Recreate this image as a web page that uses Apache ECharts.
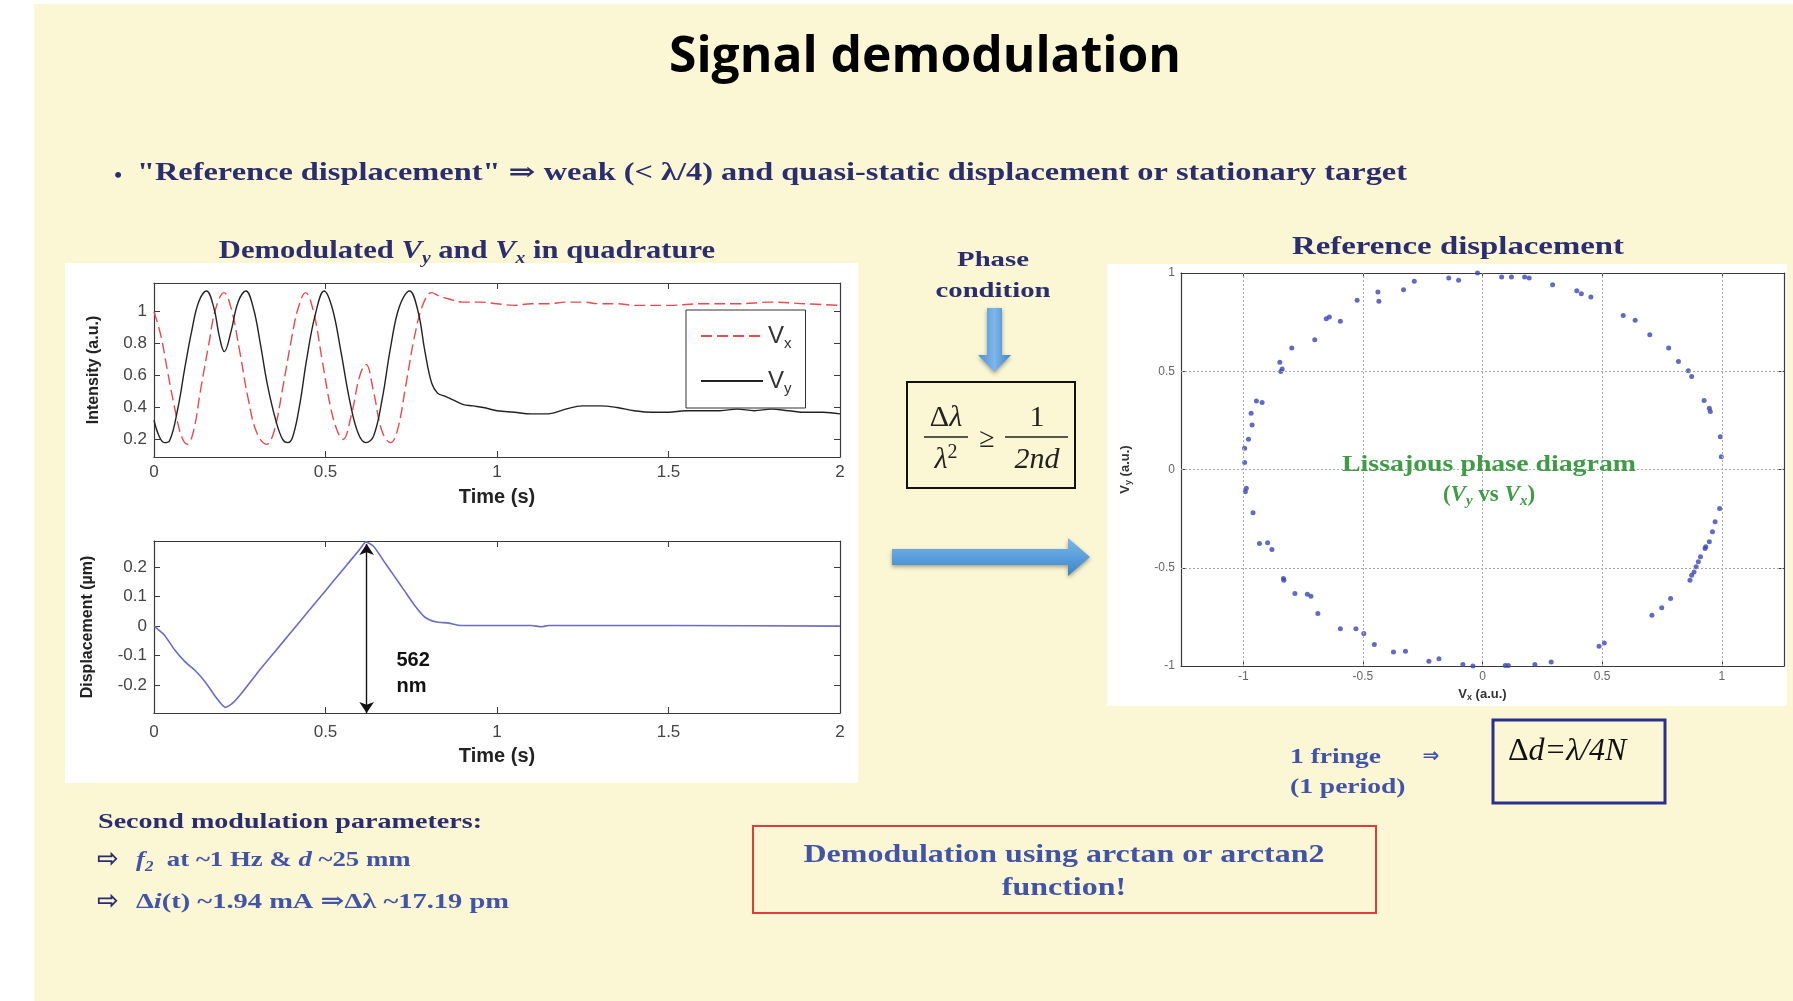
<!DOCTYPE html>
<html>
<head>
<meta charset="utf-8">
<script src="https://cdn.jsdelivr.net/npm/echarts@6/dist/echarts.min.js"></script>
<style>
  html, body { margin: 0; padding: 0; background: #fff; }
  #main { width: 1793px; height: 1001px; }
</style>
</head>
<body>
<div id="main"></div>
<script>
// demodulated quadrature signals, [time (s), intensity (a.u.)]
const vySignal = [
  [0, 0.32], [0.015, 0.22], [0.03, 0.18], [0.045, 0.19], [0.07, 0.40], [0.09, 0.65], [0.11, 0.88],
  [0.13, 1.06], [0.153, 1.13], [0.175, 1.02], [0.19, 0.85], [0.205, 0.75], [0.225, 0.88], [0.245, 1.06],
  [0.268, 1.13], [0.29, 1.02], [0.31, 0.80], [0.33, 0.55], [0.355, 0.32], [0.375, 0.20], [0.39, 0.18],
  [0.405, 0.22], [0.425, 0.42], [0.445, 0.70], [0.47, 0.98], [0.496, 1.13], [0.52, 1.02], [0.545, 0.75],
  [0.57, 0.45], [0.595, 0.24], [0.618, 0.18], [0.64, 0.22], [0.665, 0.45], [0.69, 0.78], [0.715, 1.03],
  [0.745, 1.13], [0.77, 1.00], [0.79, 0.75], [0.81, 0.55], [0.827, 0.49], [0.85, 0.47], [0.87, 0.45],
  [0.9, 0.42], [0.93, 0.41], [0.96, 0.40], [1.0, 0.38], [1.05, 0.37], [1.1, 0.36], [1.15, 0.36],
  [1.2, 0.39], [1.25, 0.41], [1.3, 0.41], [1.35, 0.40], [1.4, 0.38], [1.45, 0.37], [1.5, 0.37],
  [1.55, 0.38], [1.6, 0.38], [1.65, 0.38], [1.7, 0.39], [1.75, 0.38], [1.8, 0.39], [1.85, 0.38],
  [1.9, 0.37], [1.95, 0.37], [2.0, 0.36]
];
const vxSignal = [
  [0, 1.0], [0.02, 0.85], [0.04, 0.62], [0.06, 0.40], [0.08, 0.22], [0.097, 0.17], [0.115, 0.25],
  [0.135, 0.50], [0.16, 0.80], [0.18, 1.02], [0.204, 1.12], [0.225, 1.02], [0.25, 0.75], [0.275, 0.45],
  [0.3, 0.24], [0.328, 0.17], [0.35, 0.25], [0.375, 0.52], [0.4, 0.82], [0.42, 1.02], [0.442, 1.12],
  [0.465, 1.00], [0.49, 0.70], [0.515, 0.40], [0.535, 0.25], [0.551, 0.20], [0.575, 0.35], [0.6, 0.60],
  [0.618, 0.67], [0.64, 0.50], [0.665, 0.25], [0.69, 0.18], [0.71, 0.26], [0.735, 0.55], [0.76, 0.85],
  [0.785, 1.05], [0.81, 1.12], [0.83, 1.10], [0.86, 1.08], [0.9, 1.06], [0.95, 1.06], [1.0, 1.05],
  [1.05, 1.04], [1.1, 1.05], [1.15, 1.05], [1.2, 1.06], [1.25, 1.06], [1.3, 1.05], [1.35, 1.05],
  [1.4, 1.04], [1.5, 1.04], [1.6, 1.05], [1.7, 1.05], [1.8, 1.06], [1.9, 1.05], [2.0, 1.04]
];
// reconstructed displacement, [time (s), displacement (um)]
const displacement = [
  [0, 0], [0.03, -0.03], [0.06, -0.08], [0.09, -0.12], [0.12, -0.15], [0.15, -0.19], [0.18, -0.24],
  [0.208, -0.275], [0.23, -0.26], [0.26, -0.22], [0.3, -0.16], [0.35, -0.09], [0.4, -0.02], [0.45, 0.05],
  [0.5, 0.12], [0.55, 0.19], [0.6, 0.26], [0.618, 0.285], [0.64, 0.27], [0.67, 0.22], [0.7, 0.17],
  [0.73, 0.12], [0.76, 0.07], [0.79, 0.03], [0.82, 0.015], [0.86, 0.01], [0.886, 0.003], [0.95, 0.002],
  [1.1, 0.002], [1.13, -0.002], [1.15, 0.002], [1.5, 0.002], [2.0, 0.0]
];
const peakTime = 0.62;
const peakValue = 0.278;
const amplitudeLabel = '562\nnm';
// Lissajous diagram samples (Vx, Vy)
const lissX = [
  -0.141, -0.10, -0.021, 0.080, 0.121, 0.176, 0.195, 0.293, 0.394, 0.413, 0.453, 0.588, 0.638, 0.699,
  0.778, 0.819, 0.860, 0.874, 0.926, 0.948, 0.952, 0.994, 0.998, 0.991, 0.972, 0.961, 0.948, 0.933,
  0.930, 0.911, 0.902, 0.893, 0.884, 0.874, 0.867, 0.786, 0.749, 0.708, 0.509, 0.487, 0.287, 0.219,
  0.108, 0.095, -0.040, -0.082, -0.182, -0.224, -0.322, -0.372, -0.452, -0.496, -0.529, -0.594, -0.688,
  -0.717, -0.732, -0.784, -0.830, -0.832, -0.880, -0.898, -0.932, -0.959, -0.991, -0.987, -0.994, -0.994,
  -0.978, -0.963, -0.967, -0.945, -0.921, -0.843, -0.837, -0.847, -0.797, -0.701, -0.653, -0.640, -0.594,
  -0.524, -0.437, -0.433, -0.330, -0.285
];
const lissY = [
  0.975, 0.963, 1.0, 0.98, 0.98, 0.98, 0.975, 0.94, 0.91, 0.895, 0.878, 0.784, 0.759, 0.686,
  0.618, 0.55, 0.502, 0.473, 0.351, 0.312, 0.295, 0.167, 0.065, -0.198, -0.266, -0.317, -0.368, -0.393,
  -0.402, -0.444, -0.470, -0.495, -0.521, -0.538, -0.563, -0.657, -0.703, -0.742, -0.883, -0.900, -0.980, -0.992,
  -0.997, -0.997, -1.0, -0.992, -0.963, -0.976, -0.925, -0.929, -0.891, -0.835, -0.810, -0.810, -0.733,
  -0.645, -0.635, -0.631, -0.563, -0.555, -0.407, -0.373, -0.376, -0.220, -0.113, -0.096, 0.035, 0.108,
  0.154, 0.227, 0.286, 0.349, 0.341, 0.499, 0.511, 0.546, 0.618, 0.660, 0.767, 0.776, 0.754,
  0.861, 0.903, 0.856, 0.915, 0.958
];
const intensityTicks = [0.2, 0.4, 0.6, 0.8, 1];
const dispTicks = [-0.2, -0.1, 0, 0.1, 0.2];
const lissTicks = [-1, -0.5, 0, 0.5, 1];
const lissGrid = [-0.5, 0, 0.5];

const SANS = '"Liberation Sans", Arial, sans-serif';
const SERIF = '"Liberation Serif", "DejaVu Serif", serif';
const NAVY = '#2b2e6e';
const MBLUE = '#4254a8';
const GREEN = '#3f9b45';
const AX = '#3a3a3a';

const chart = echarts.init(document.getElementById('main'));

// canvas measure so condensed slide text can be squeezed to its width
const mctx = document.createElement('canvas').getContext('2d');
function fit(str, font, w) {
  mctx.font = font;
  return w / mctx.measureText(str).width;
}
function T(x, y, text, o) {
  const sx = o.w ? fit(o.plain || text, o.font, o.w) : 1;
  return {
    type: 'text', x: x, y: y, scaleX: sx, z: 100,
    style: {
      text: text, font: o.font, fill: o.fill || NAVY,
      align: o.align || 'center', verticalAlign: 'middle', rich: o.rich
    }
  };
}
function rs(size, color, extra) {
  return Object.assign({ fontFamily: SERIF, fontSize: size, fontWeight: 'bold', fill: color, color: color, lineHeight: size + 6 }, extra || {});
}
function sub(size, color) {
  return rs(size, color, { lineHeight: size, verticalAlign: 'bottom', fontStyle: 'italic' });
}

function xAx(grid, opt) {
  return Object.assign({
    gridIndex: grid, type: 'value', position: 'bottom',
    axisLine: { show: true, onZero: false, lineStyle: { color: AX, width: 1.2 } },
    axisTick: { show: true, inside: true, length: 6, lineStyle: { color: AX } },
    axisLabel: { fontFamily: SANS, fontSize: 17, color: '#444', margin: 7 },
    splitLine: { show: false }
  }, opt);
}
function yAx(grid, opt) {
  return Object.assign({
    gridIndex: grid, type: 'value', position: 'left',
    axisLine: { show: true, onZero: false, lineStyle: { color: AX, width: 1.2 } },
    axisTick: { show: true, inside: true, length: 6, lineStyle: { color: AX } },
    axisLabel: { fontFamily: SANS, fontSize: 17, color: '#444', margin: 7 },
    splitLine: { show: false }
  }, opt);
}
const nameStyle = { fontFamily: SANS, fontWeight: 'bold', fontSize: 20, color: '#222' };
const noLabel = { show: false };

const option = {
  animation: false,
  textStyle: { fontFamily: SANS },
  grid: [
    { left: 154, top: 283, width: 686, height: 174 },
    { left: 154, top: 541, width: 686, height: 172 },
    { left: 1181, top: 273, width: 603, height: 393 }
  ],
  xAxis: [
    xAx(0, { min: 0, max: 2, interval: 0.5, name: 'Time (s)', nameLocation: 'middle', nameGap: 30, nameTextStyle: nameStyle }),
    xAx(0, { min: 0, max: 2, interval: 0.5, position: 'top', axisLabel: noLabel }),
    xAx(1, { min: 0, max: 2, interval: 0.5, axisLabel: { fontFamily: SANS, fontSize: 17, color: '#444', margin: 11 },
      name: 'Time (s)', nameLocation: 'middle', nameGap: 33, nameTextStyle: nameStyle }),
    xAx(1, { min: 0, max: 2, interval: 0.5, position: 'top', axisLabel: noLabel }),
    xAx(2, { min: -1.26, max: 1.26,
      axisTick: { show: true, inside: true, length: 5, customValues: lissTicks, lineStyle: { color: AX } },
      axisLabel: { customValues: lissTicks, fontFamily: SANS, fontSize: 12, color: '#666', margin: 5 },
      name: '{b|V}{s|x}{b| (a.u.)}', nameLocation: 'middle', nameGap: 20,
      nameTextStyle: { rich: {
        b: { fontFamily: SANS, fontWeight: 'bold', fontSize: 13, color: '#333', lineHeight: 16 },
        s: { fontFamily: SANS, fontWeight: 'bold', fontSize: 9, color: '#333', lineHeight: 9, verticalAlign: 'bottom' }
      } } }),
    xAx(2, { min: -1.26, max: 1.26, position: 'top',
      axisTick: { show: true, inside: true, length: 5, customValues: lissTicks, lineStyle: { color: AX } }, axisLabel: noLabel })
  ],
  yAxis: [
    yAx(0, { min: 0.09, max: 1.18,
      axisTick: { show: true, inside: true, length: 6, customValues: intensityTicks, lineStyle: { color: AX } },
      axisLabel: { customValues: intensityTicks, fontFamily: SANS, fontSize: 17, color: '#444', margin: 7 },
      name: 'Intensity (a.u.)', nameLocation: 'middle', nameGap: 52,
      nameTextStyle: { fontFamily: SANS, fontWeight: 'bold', fontSize: 16, color: '#222' } }),
    yAx(0, { min: 0.09, max: 1.18, position: 'right',
      axisTick: { show: true, inside: true, length: 6, customValues: intensityTicks, lineStyle: { color: AX } }, axisLabel: noLabel }),
    yAx(1, { min: -0.294, max: 0.288,
      axisTick: { show: true, inside: true, length: 6, customValues: dispTicks, lineStyle: { color: AX } },
      axisLabel: { customValues: dispTicks, fontFamily: SANS, fontSize: 17, color: '#444', margin: 7 },
      name: 'Displacement (µm)', nameLocation: 'middle', nameGap: 58,
      nameTextStyle: { fontFamily: SANS, fontWeight: 'bold', fontSize: 16, color: '#222' } }),
    yAx(1, { min: -0.294, max: 0.288, position: 'right',
      axisTick: { show: true, inside: true, length: 6, customValues: dispTicks, lineStyle: { color: AX } }, axisLabel: noLabel }),
    yAx(2, { min: -1, max: 1, interval: 0.5,
      axisTick: { show: true, inside: true, length: 5, lineStyle: { color: AX } },
      axisLabel: { fontFamily: SANS, fontSize: 12, color: '#666', margin: 6 },
      name: '{b|V}{s|y}{b| (a.u.)}', nameLocation: 'middle', nameGap: 48,
      nameTextStyle: { rich: {
        b: { fontFamily: SANS, fontWeight: 'bold', fontSize: 13, color: '#333', lineHeight: 16 },
        s: { fontFamily: SANS, fontWeight: 'bold', fontSize: 9, color: '#333', lineHeight: 9, verticalAlign: 'bottom' }
      } } }),
    yAx(2, { min: -1, max: 1, interval: 0.5, position: 'right', axisLabel: noLabel })
  ],
  legend: {
    data: ['Vx', 'Vy'], left: 686, top: 310, orient: 'vertical',
    backgroundColor: '#fff', borderColor: '#333', borderWidth: 1, borderRadius: 0,
    padding: [14, 14, 12, 14], itemGap: 18, itemWidth: 62, itemHeight: 14,
    itemStyle: { opacity: 0 },
    formatter: function (n) { return n === 'Vx' ? '{v|V}{s|x}' : '{v|V}{s|y}'; },
    textStyle: { rich: {
      v: { fontFamily: SANS, fontSize: 24, color: '#333', lineHeight: 30 },
      s: { fontFamily: SANS, fontSize: 15, color: '#333', lineHeight: 15, verticalAlign: 'bottom' }
    } }
  },
  series: [
    { name: 'Vx', type: 'line', xAxisIndex: 0, yAxisIndex: 0, data: vxSignal, symbol: 'none', smooth: 0.4,
      color: '#ea4a4f', lineStyle: { color: '#ea4a4f', width: 1.4, type: [11, 5] } },
    { name: 'Vy', type: 'line', xAxisIndex: 0, yAxisIndex: 0, data: vySignal, symbol: 'none', smooth: 0.4,
      color: '#222', lineStyle: { color: '#222', width: 1.4 } },
    { name: 'Displacement', type: 'line', xAxisIndex: 2, yAxisIndex: 2, data: displacement, symbol: 'none', smooth: 0.2,
      lineStyle: { color: '#6b6bc8', width: 1.6 },
      markLine: {
        silent: true, symbol: ['arrow', 'arrow'], symbolSize: 11,
        lineStyle: { color: '#111', width: 1.4, type: 'solid' }, label: { show: false },
        data: [[{ coord: [peakTime, peakValue] }, { coord: [peakTime, -0.294] }]]
      },
      markPoint: {
        silent: true, symbol: 'circle', symbolSize: 0,
        label: { show: true, position: 'inside', align: 'left', formatter: amplitudeLabel,
          fontFamily: SANS, fontWeight: 'bold', fontSize: 20, color: '#111', lineHeight: 26 },
        data: [{ coord: [0.707, -0.159] }]
      } },
    { name: 'Lissajous', type: 'scatter', xAxisIndex: 4, yAxisIndex: 4,
      data: lissX.map(function (x, i) { return [x, lissY[i]]; }),
      symbol: 'circle', symbolSize: 5, itemStyle: { color: '#3b45b5' },
      markLine: {
        silent: true, symbol: 'none', label: { show: false },
        lineStyle: { color: '#aaa', width: 1, type: [2, 2] },
        data: lissTicks.map(function (v) { return { xAxis: v }; })
          .concat(lissGrid.map(function (v) { return { yAxis: v }; }))
      } }
  ],
  graphic: [
    // slide background and white figure panels
    { type: 'rect', z: -10, shape: { x: 34, y: 4, width: 1759, height: 997 }, style: { fill: '#fbf6d3' } },
    { type: 'rect', z: -5, shape: { x: 65, y: 263, width: 793, height: 520 }, style: { fill: '#fff' } },
    { type: 'rect', z: -5, shape: { x: 1107, y: 264, width: 680, height: 442 }, style: { fill: '#fff' } },

    T(925, 58, 'Signal demodulation', { font: 'bold 50px "Open Sans"', fill: '#000', w: 512 }),
    T(118, 176, '•', { font: 'bold 22px ' + SERIF, fill: NAVY }),
    T(137, 174, '"Reference displacement" \u21d2 weak (< \u03bb/4) and quasi-static displacement or stationary target',
      { font: 'bold 25px ' + SERIF, fill: NAVY, align: 'left', w: 1270 }),

    T(467, 252, '{b|Demodulated }{i|V}{s|y}{b| and }{i|V}{s|x}{b| in quadrature}', {
      font: 'bold 25px ' + SERIF, plain: 'Demodulated Vy and Vx in quadrature', w: 509,
      rich: { b: rs(25, NAVY, { lineHeight: 30 }), i: rs(25, NAVY, { lineHeight: 30, fontStyle: 'italic' }), s: sub(16, NAVY) }
    }),
    T(1458, 248, 'Reference displacement', { font: 'bold 25px ' + SERIF, fill: NAVY, w: 332 }),

    T(993, 260, 'Phase', { font: 'bold 22px ' + SERIF, fill: NAVY, plain: 'condition', w: 115 }),
    T(993, 291, 'condition', { font: 'bold 22px ' + SERIF, fill: NAVY, w: 115 }),
    { type: 'polygon', z: 50, shape: { points: [[987, 308], [1002, 308], [1002, 355], [1011, 355], [994.5, 372], [978, 355], [987, 355]] },
      style: { fill: { type: 'linear', x: 0, y: 0, x2: 1, y2: 0, colorStops: [{ offset: 0, color: '#4f93d2' }, { offset: 0.5, color: '#7db6ea' }, { offset: 1, color: '#3f82c6' }] },
        shadowBlur: 4, shadowColor: 'rgba(0,0,0,0.35)', shadowOffsetY: 2 } },
    { type: 'polygon', z: 50, shape: { points: [[892, 549], [1068, 549], [1068, 538], [1090, 557], [1068, 576], [1068, 565], [892, 565]] },
      style: { fill: { type: 'linear', x: 0, y: 0, x2: 0, y2: 1, colorStops: [{ offset: 0, color: '#7db6ea' }, { offset: 0.5, color: '#5a9fdc' }, { offset: 1, color: '#3f82c6' }] },
        shadowBlur: 4, shadowColor: 'rgba(0,0,0,0.35)', shadowOffsetY: 2 } },

    // phase condition formula
    { type: 'rect', z: 50, shape: { x: 907, y: 382, width: 168, height: 106 }, style: { fill: 'none', stroke: '#111', lineWidth: 2 } },
    T(946, 418, '{n|\u0394}{i|\u03bb}', { font: '30px ' + SERIF, rich: { n: { fontFamily: SERIF, fontSize: 30, fill: '#222' }, i: { fontFamily: SERIF, fontSize: 30, fontStyle: 'italic', fill: '#222' } } }),
    { type: 'line', z: 50, shape: { x1: 924, y1: 437, x2: 968, y2: 437 }, style: { stroke: '#222', lineWidth: 1.5 } },
    T(946, 460, '{i|\u03bb}{n|2}', { font: '30px ' + SERIF, rich: { n: { fontFamily: SERIF, fontSize: 20, fill: '#222', verticalAlign: 'top', lineHeight: 20 }, i: { fontFamily: SERIF, fontSize: 30, fontStyle: 'italic', fill: '#222', lineHeight: 34 } } }),
    T(987, 440, '\u2265', { font: '28px ' + SERIF, fill: '#222' }),
    T(1037, 418, '1', { font: '30px ' + SERIF, fill: '#222' }),
    { type: 'line', z: 50, shape: { x1: 1005, y1: 437, x2: 1068, y2: 437 }, style: { stroke: '#222', lineWidth: 1.5 } },
    T(1037, 460, '2nd', { font: 'italic 30px ' + SERIF, fill: '#222' }),

    // Lissajous overlay
    T(1489, 465, 'Lissajous phase diagram', { font: 'bold 23px ' + SERIF, fill: GREEN, w: 294 }),
    T(1489, 495, '{b|(}{i|V}{s|y}{b| vs }{i|V}{s|x}{b|)}', {
      font: 'bold 23px ' + SERIF,
      rich: { b: rs(23, GREEN, { lineHeight: 28 }), i: rs(23, GREEN, { lineHeight: 28, fontStyle: 'italic' }), s: sub(15, GREEN) }
    }),

    // fringe relation
    T(1290, 757, '1 fringe', { font: 'bold 22px ' + SERIF, fill: MBLUE, align: 'left', w: 91 }),
    T(1431, 757, '\u21d2', { font: 'bold 20px "DejaVu Sans"', fill: MBLUE }),
    T(1290, 787, '(1 period)', { font: 'bold 22px ' + SERIF, fill: MBLUE, align: 'left', plain: '1 fringe', w: 91 }),
    { type: 'rect', z: 50, shape: { x: 1493, y: 720, width: 172, height: 83 }, style: { fill: 'none', stroke: '#2b2f8f', lineWidth: 3 } },
    T(1508, 752, '{n|\u0394}{i|d=\u03bb/4N}', { font: 'italic 32px ' + SERIF, align: 'left',
      rich: { n: { fontFamily: SERIF, fontSize: 32, fill: '#111' }, i: { fontFamily: SERIF, fontSize: 32, fontStyle: 'italic', fill: '#111' } } }),

    // arctan note
    { type: 'rect', z: 50, shape: { x: 753, y: 826, width: 623, height: 87 }, style: { fill: 'none', stroke: '#e23b3b', lineWidth: 2 } },
    T(1064, 856, 'Demodulation using arctan or arctan2', { font: 'bold 25px ' + SERIF, fill: MBLUE, w: 521 }),
    T(1064, 889, 'function!', { font: 'bold 25px ' + SERIF, fill: MBLUE, plain: 'Demodulation using arctan or arctan2', w: 521 }),

    // second modulation parameters
    T(98, 822, 'Second modulation parameters:', { font: 'bold 22px ' + SERIF, fill: NAVY, align: 'left', w: 384 }),
    T(97, 860, '\u21e8', { font: 'bold 26px "DejaVu Sans"', fill: NAVY, align: 'left' }),
    T(136, 860, '{i|f}{s|2}{b|  at ~1 Hz & }{i|d}{b| ~25 mm}', {
      font: 'bold 22px ' + SERIF, align: 'left', plain: 'f2  at ~1 Hz & d ~25 mm', w: 281,
      rich: { b: rs(22, MBLUE, { lineHeight: 28 }), i: rs(22, MBLUE, { lineHeight: 28, fontStyle: 'italic' }), s: sub(14, MBLUE) }
    }),
    T(97, 902, '\u21e8', { font: 'bold 26px "DejaVu Sans"', fill: NAVY, align: 'left' }),
    T(136, 902, '{b|\u0394}{i|i}{b|(t) ~1.94 mA \u21d2\u0394\u03bb ~17.19 pm}', {
      font: 'bold 22px ' + SERIF, align: 'left', plain: '\u0394i(t) ~1.94 mA \u21d2\u0394\u03bb ~17.19 pm', w: 373,
      rich: { b: rs(22, MBLUE, { lineHeight: 28 }), i: rs(22, MBLUE, { lineHeight: 28, fontStyle: 'italic' }) }
    })
  ]
};

chart.setOption(option);
</script>
</body>
</html>
